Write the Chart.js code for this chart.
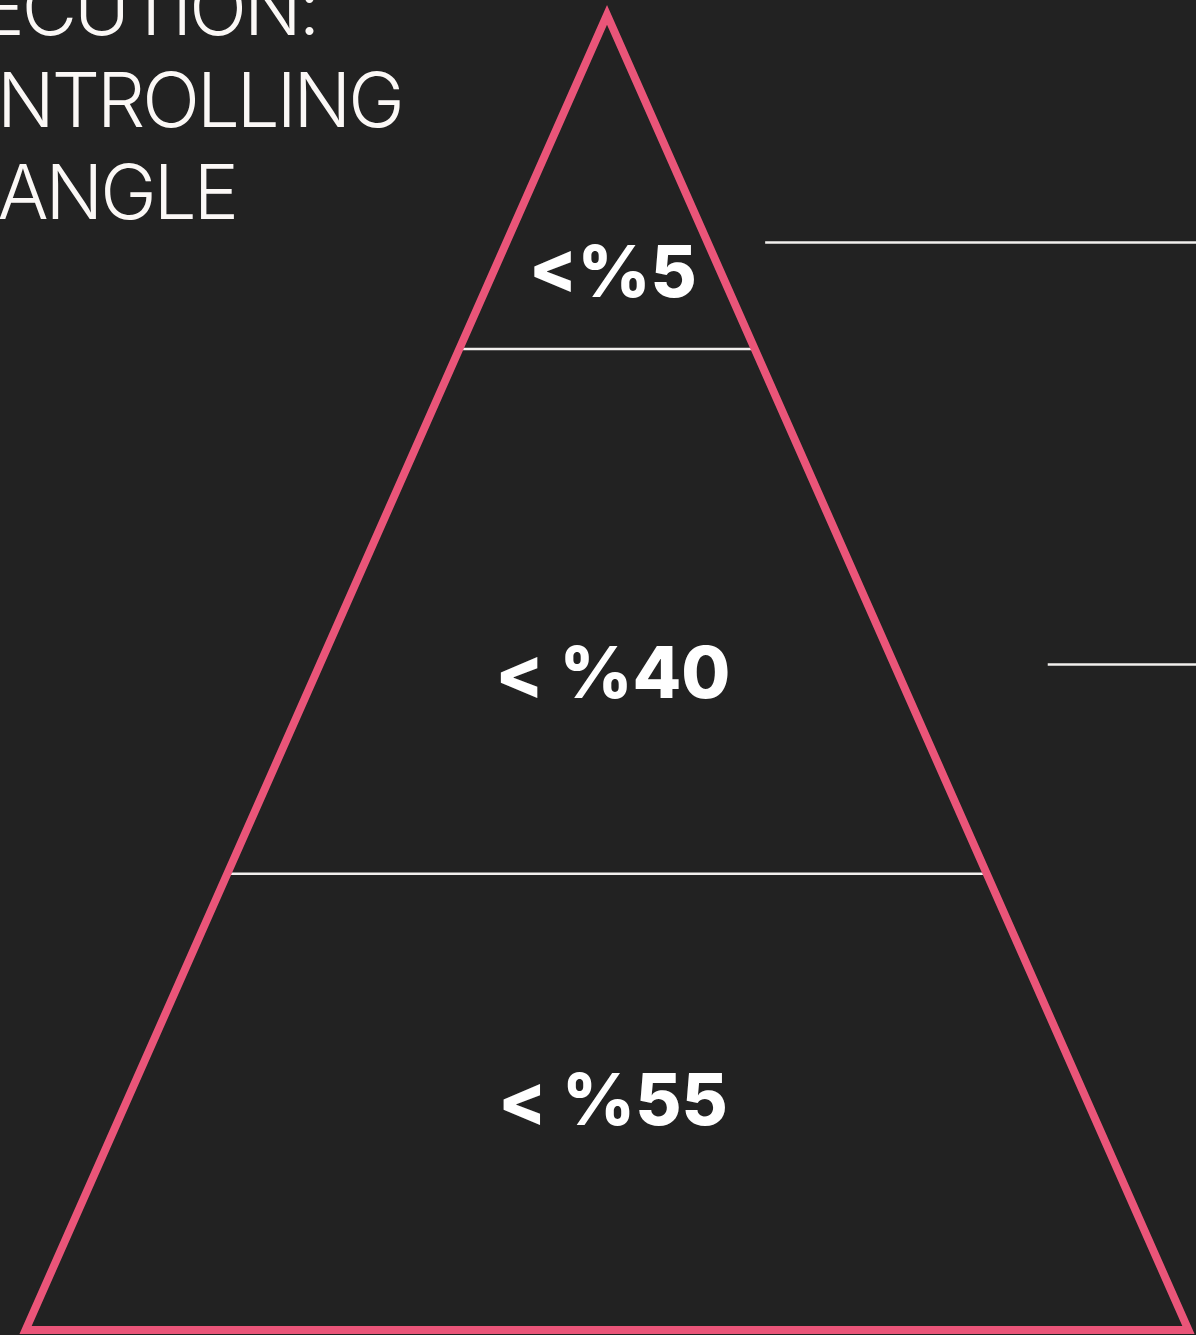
<!DOCTYPE html>
<html>
<head>
<meta charset="utf-8">
<script src="https://cdn.jsdelivr.net/npm/chart.js@4"></script>
<style>
  html, body { margin: 0; padding: 0; background: #222222; overflow: hidden; }
  #wrap { position: relative; width: 1196px; height: 1335px; overflow: hidden; }
  #title {
    position: absolute; left: -110px; top: -39px;
    font-family: Inter, sans-serif; font-weight: 300; font-size: 76px; line-height: 92px;
    letter-spacing: -3px;
    color: #fbf8f6; white-space: nowrap;
  }
  canvas { position: absolute; left: 0; top: 0; }
</style>
</head>
<body>
<div id="wrap">
  <canvas id="pyramid" width="1196" height="1335"></canvas>
  <div id="title">EXECUTION:<br>CONTROLLING<br>TRIANGLE</div>
</div>
<script>
// pyramid outline, base = 0, apex = 100
const triangleX = [0, 50, 0, -50, 0];
const triangleY = [0, 0, 100, 0, 0];

// band labels, top to bottom
const bandLabels = ['<%5', '< %40', '< %55'];
const labelLevels = [80.2, 49.7, 17.2];

// white lines between bands
const dividerLevels = [74.6, 34.7];

// pointer lines on the right
const pointerLevels = [82.7, 50.6];
const pointerStartX = [13.6, 37.9];

const xMin = -52.2, xMax = 50.65;
const yMin = -0.38, yMax = 101.14;

const pink = 'rgb(234, 85, 121)';
const white = '#f2f0ee';

const datasets = [];

datasets.push({
  data: triangleX.map((x, i) => ({x: x, y: triangleY[i]})),
  borderColor: pink,
  borderWidth: 8,
  borderJoinStyle: 'miter',
  pointRadius: 0,
  clip: false,
  order: 0
});

dividerLevels.forEach(lv => {
  const half = 50 * (1 - lv / 100);
  datasets.push({
    data: [{x: -half, y: lv}, {x: half, y: lv}],
    borderColor: white,
    borderWidth: 2.5,
    pointRadius: 0,
    clip: false,
    order: 1
  });
});

pointerLevels.forEach((lv, i) => {
  datasets.push({
    data: [{x: pointerStartX[i], y: lv}, {x: xMax, y: lv}],
    borderColor: white,
    borderWidth: 2.5,
    pointRadius: 0,
    clip: false,
    order: 1
  });
});

const bandText = {
  id: 'bandText',
  afterDatasetsDraw(chart) {
    const ctx = chart.ctx;
    const xs = chart.scales.x, ys = chart.scales.y;
    ctx.save();
    ctx.fillStyle = '#ffffff';
    ctx.font = '800 71px Inter, sans-serif';
    ctx.textAlign = 'center';
    ctx.textBaseline = 'middle';
    bandLabels.forEach((t, i) => {
      ctx.fillText(t, xs.getPixelForValue(0.5), ys.getPixelForValue(labelLevels[i]));
    });
    ctx.restore();
  }
};

new Chart(document.getElementById('pyramid'), {
  type: 'line',
  data: { datasets: datasets },
  options: {
    responsive: false,
    animation: false,
    layout: { padding: 0 },
    scales: {
      x: { type: 'linear', min: xMin, max: xMax, display: false },
      y: { type: 'linear', min: yMin, max: yMax, display: false }
    },
    plugins: {
      legend: { display: false },
      tooltip: { enabled: false }
    }
  },
  plugins: [bandText]
});
</script>
</body>
</html>
